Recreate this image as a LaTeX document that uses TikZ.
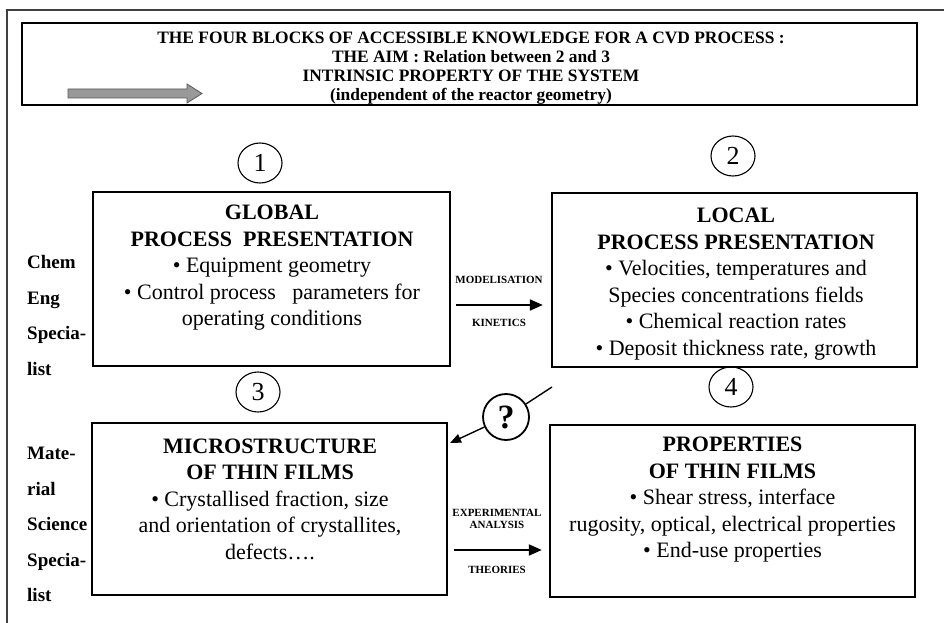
\documentclass[tikz,border=0pt]{standalone}
\usepackage{fontspec}
\setmainfont{Liberation Serif}
\usetikzlibrary{shapes.geometric,arrows.meta}
\begin{document}
\begin{tikzpicture}[x=1pt,y=-1pt,
  blockbox/.style={draw=black,line width=2.4pt,inner sep=0pt},
  blocktext/.style={align=center,inner sep=0pt,font=\fontsize{22}{26.5}\selectfont},
  numcirc/.style={draw=black,line width=1.1pt,ellipse,minimum width=44pt,minimum height=40pt,inner sep=0pt,font=\fontsize{26}{26}\selectfont},
  sidelab/.style={align=left,inner sep=0pt,anchor=west,font=\bfseries\fontsize{19}{35.5}\selectfont},
  arrlab/.style={inner sep=0pt,font=\bfseries\fontsize{11}{12.5}\selectfont,align=center},
  conn/.style={draw=black,line width=2pt,-{Triangle[length=13pt,width=11pt]}},
]
\useasboundingbox (0,0) rectangle (944,623);
% outer frame (top and left edges)
\draw[black!75,line width=1.3pt] (7,623) -- (7,10) -- (944,10);

% title box
\node[blockbox,minimum width=895pt,minimum height=82pt] (top) at (469.5,64) {};
\node[align=center,inner sep=0pt,font=\bfseries\fontsize{17.4}{19}\selectfont] (title) at (471,68.5) {THE FOUR BLOCKS OF ACCESSIBLE KNOWLEDGE FOR A CVD PROCESS :\\THE AIM : Relation between 2 and 3\\INTRINSIC PROPERTY OF THE SYSTEM\\(independent of the reactor geometry)};
\filldraw[fill=black!40,draw=black!65,line width=0.8pt] (68,89) -- (187,89) -- (187,84) -- (202,93.5) -- (187,103) -- (187,98) -- (68,98) -- cycle;

% number circles
\node[numcirc] (c1) at (260,163) {1};
\node[numcirc] (c2) at (733,156) {2};
\node[numcirc] (c3) at (258,392) {3};
\node[numcirc] (c4) at (731,387) {4};

% blocks
\node[blockbox,minimum width=357pt,minimum height=174pt] (b1) at (271.5,279) {};
\node[blockbox,minimum width=365pt,minimum height=174pt] (b2) at (734.5,280) {};
\node[blockbox,minimum width=355pt,minimum height=172pt] (b3) at (269.5,509) {};
\node[blockbox,minimum width=365pt,minimum height=172pt] (b4) at (732.5,511) {};

\node[blocktext] (t1) at (272,268) {\textbf{GLOBAL}\\\textbf{PROCESS~~PRESENTATION}\\• Equipment geometry\\• Control process~~ parameters for\\operating conditions};
\node[blocktext] (t2) at (736,284) {\textbf{LOCAL}\\\textbf{PROCESS PRESENTATION}\\• Velocities, temperatures and\\Species concentrations fields\\• Chemical reaction rates\\• Deposit thickness rate, growth};
\node[blocktext] (t3) at (270,499) {\textbf{MICROSTRUCTURE}\\\textbf{OF THIN FILMS}\\• Crystallised fraction, size\\and orientation of crystallites,\\defects….};
\node[blocktext] (t4) at (732.5,500) {\textbf{PROPERTIES}\\\textbf{OF THIN FILMS}\\• Shear stress, interface\\rugosity, optical, electrical properties\\• End-use properties};

% side labels
\node[sidelab] (s1) at (27,315.5) {Chem\\Eng\\Specia-\\list};
\node[sidelab] (s2) at (27,524.5) {Mate-\\rial\\Science\\Specia-\\list};

% arrows between blocks
\draw[conn] ([xshift=5pt,yshift=-26pt]b1.east) -- ([xshift=-8pt,yshift=-25pt]b2.west);
\node[arrlab] (lm) at (499,280) {MODELISATION};
\node[arrlab] (lk) at (499,323) {KINETICS};

\draw[conn] ([xshift=6pt,yshift=-41pt]b3.east) -- ([xshift=-7pt,yshift=-39pt]b4.west);
\node[arrlab] (le) at (497,519) {EXPERIMENTAL\\ANALYSIS};
\node[arrlab] (lt) at (497,570) {THEORIES};

% question mark
\node[draw=black,circle,line width=1.8pt,minimum size=46pt,inner sep=0pt,font=\bfseries\fontsize{34}{34}\selectfont] (q) at (506,417) {?};
\coordinate (qend) at (552,387);
\coordinate (qtip) at (450,443);
\draw[black,line width=1.4pt] (q) -- (qend);
\draw[black,line width=1.4pt,-{Triangle[length=11pt,width=9pt]}] (q) -- (qtip);
\end{tikzpicture}
\end{document}
